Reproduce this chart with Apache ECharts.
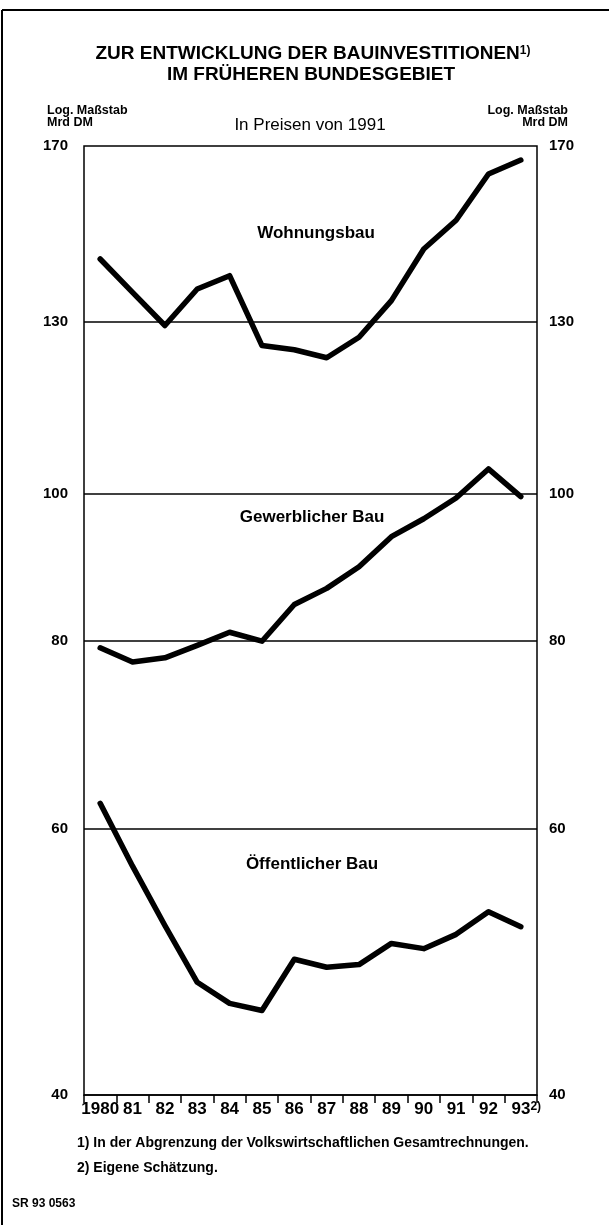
<!DOCTYPE html>
<html>
<head>
<meta charset="utf-8">
<title>Zur Entwicklung der Bauinvestitionen</title>
<script src="https://cdn.jsdelivr.net/npm/echarts@6/dist/echarts.min.js"></script>
<style>
  html, body { margin: 0; padding: 0; background: #fff; }
  #chart { width: 609px; height: 1225px; }
</style>
</head>
<body>
<div id="chart"></div>
<script>
// Mrd DM, in Preisen von 1991 (1993 geschaetzt)
let years = ['1980', '81', '82', '83', '84', '85', '86', '87', '88', '89', '90', '91', '92', '93']
let wohnungsbau = [143.1, 136.0, 129.3, 136.7, 139.5, 125.4, 124.6, 123.1, 127.0, 134.3, 145.3, 151.8, 162.9, 166.4]
let gewerblicherBau = [79.1, 77.4, 77.9, 79.4, 81.0, 79.9, 84.5, 86.6, 89.5, 93.7, 96.3, 99.4, 103.9, 99.6]
let oeffentlicherBau = [62.4, 56.7, 51.8, 47.5, 46.0, 45.5, 49.2, 48.6, 48.8, 50.4, 50.0, 51.1, 52.9, 51.7]
let yTicks = [40, 60, 80, 100, 130, 170]
let gridValues = [60, 80, 100, 130]

let font = "'Liberation Sans', Arial, sans-serif"
let black = '#000'

let chart = echarts.init(document.getElementById('chart'))

function lineSeries(name, data) {
  return {
    name: name,
    type: 'line',
    data: data,
    symbol: 'none',
    silent: true,
    z: 3,
    lineStyle: { color: black, width: 5.5, cap: 'round', join: 'round' },
  }
}

function yAxisConf(position, margin) {
  return {
    type: 'log',
    logBase: 10,
    min: 40,
    max: 170,
    position: position,
    axisLine: { show: false },
    axisTick: { show: false, customValues: yTicks },
    splitLine: { show: false },
    axisLabel: {
      customValues: yTicks,
      margin: margin,
      color: black,
      fontFamily: font,
      fontSize: 15,
      fontWeight: 'bold',
    },
  }
}

function text(x, y, str, size, weight, align, extra) {
  return {
    type: 'text',
    x: x,
    y: y,
    silent: true,
    style: Object.assign({
      text: str,
      fill: black,
      fontFamily: font,
      fontSize: size,
      fontWeight: weight,
      align: align,
      verticalAlign: 'middle',
    }, extra || {}),
  }
}

let woh = lineSeries('Wohnungsbau', wohnungsbau)
// grid lines at 60, 80, 100, 130
woh.markLine = {
  silent: true,
  symbol: ['none', 'none'],
  label: { show: false },
  lineStyle: { color: black, width: 1.5, type: 'solid' },
  data: gridValues.map((v) => ({ yAxis: v })),
}

let option = {
  animation: false,
  backgroundColor: '#fff',
  grid: {
    left: 84,
    right: 72,
    top: 146,
    bottom: 130,
    show: true,
    borderColor: black,
    borderWidth: 1.5,
  },
  xAxis: {
    type: 'category',
    data: years,
    boundaryGap: true,
    axisLine: { show: true, lineStyle: { color: black, width: 1.5 } },
    axisTick: { show: true, interval: 0, length: 8, lineStyle: { color: black, width: 1.5 } },
    splitLine: { show: false },
    axisLabel: {
      interval: 0,
      margin: 6,
      color: black,
      fontFamily: font,
      fontSize: 17,
      fontWeight: 'bold',
      formatter: function (v, i) {
        // last year is an estimate -> footnote 2)
        return i === years.length - 1 ? '{pad|}' + v + '{sup|2)}' : v
      },
      rich: {
        pad: { width: 11 },
        sup: { fontSize: 12, fontWeight: 'bold', fontFamily: font, color: black, verticalAlign: 'top', lineHeight: 12 },
      },
    },
  },
  yAxis: [yAxisConf('left', 16), yAxisConf('right', 12)],
  series: [
    woh,
    lineSeries('Gewerblicher Bau', gewerblicherBau),
    lineSeries('Öffentlicher Bau', oeffentlicherBau),
  ],
  graphic: [
    // frame
    { type: 'line', silent: true, shape: { x1: 2, y1: 10, x2: 609, y2: 10 }, style: { stroke: black, lineWidth: 2 } },
    { type: 'line', silent: true, shape: { x1: 2, y1: 10, x2: 2, y2: 1225 }, style: { stroke: black, lineWidth: 2 } },
    // title
    text(313, 54, 'ZUR ENTWICKLUNG DER BAUINVESTITIONEN{sup|1)}', 19, 'bold', 'center', {
      rich: { sup: { fontSize: 12, fontWeight: 'bold', fontFamily: font, fill: black, verticalAlign: 'top', lineHeight: 12 } },
    }),
    text(311, 75, 'IM FRÜHEREN BUNDESGEBIET', 19, 'bold', 'center'),
    text(310, 125, 'In Preisen von 1991', 17, 'normal', 'center'),
    text(47, 111, 'Log. Maßstab', 12.5, 'bold', 'left'),
    text(47, 123, 'Mrd DM', 12.5, 'bold', 'left'),
    text(568, 111, 'Log. Maßstab', 12.5, 'bold', 'right'),
    text(568, 123, 'Mrd DM', 12.5, 'bold', 'right'),
    // series names
    text(316, 233, 'Wohnungsbau', 17, 'bold', 'center'),
    text(312, 517, 'Gewerblicher Bau', 17, 'bold', 'center'),
    text(312, 864, 'Öffentlicher Bau', 17, 'bold', 'center'),
    // footnotes
    text(77, 1143, '1) In der Abgrenzung der Volkswirtschaftlichen Gesamtrechnungen.', 14, 'bold', 'left'),
    text(77, 1168, '2) Eigene Schätzung.', 14, 'bold', 'left'),
    text(12, 1204, 'SR 93 0563', 12, 'bold', 'left'),
  ],
}

chart.setOption(option)
</script>
</body>
</html>
